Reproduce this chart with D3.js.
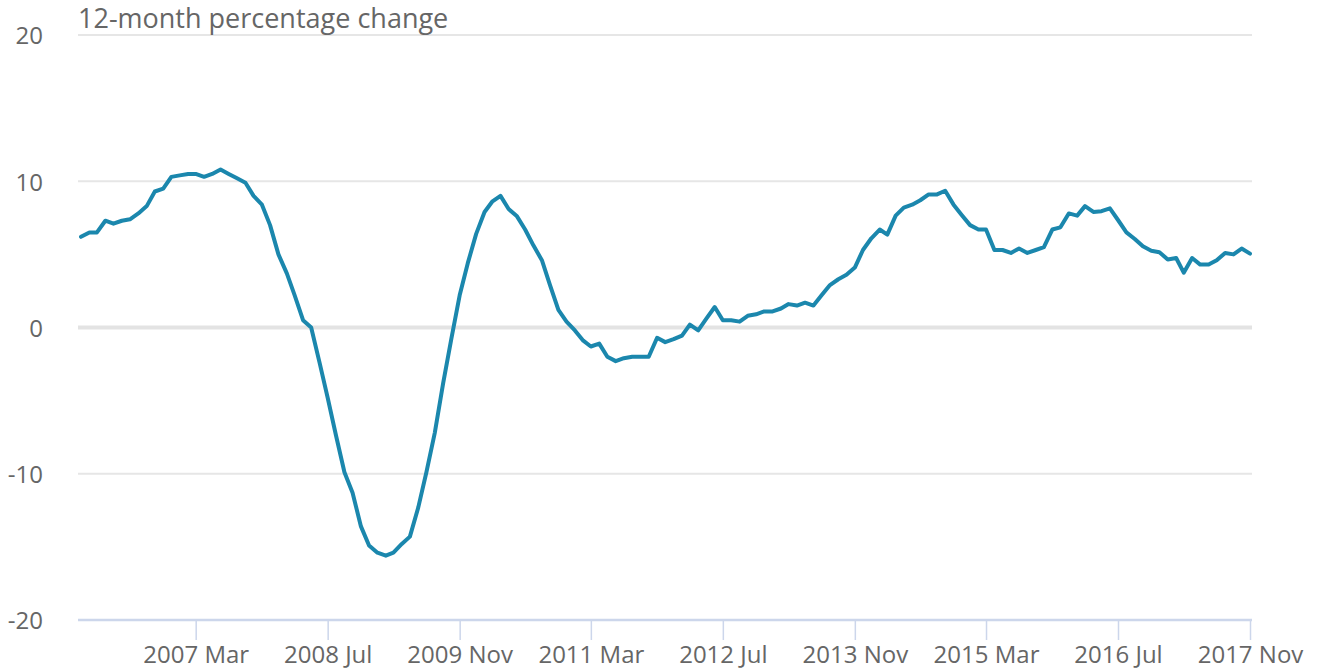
<!DOCTYPE html>
<html>
<head>
<meta charset="utf-8">
<script src="https://cdn.jsdelivr.net/npm/d3@7"></script>
<style>
  body { margin: 0; background: #fff; }
  svg { font-family: "Open Sans", sans-serif; }
</style>
</head>
<body>
<div id="chart"></div>
<script>
// monthly series, 2006 Jan .. 2017 Nov
const startMonth = "2006-01";
const values = [
  6.2, 6.5, 6.5, 7.3, 7.1, 7.3, 7.4, 7.8, 8.3, 9.3, 9.5, 10.3,
  10.4, 10.5, 10.5, 10.3, 10.5, 10.8, 10.5, 10.2, 9.9, 9.0, 8.4, 7.0,
  5.0, 3.7, 2.2, 0.5, 0.0, -2.4, -4.8, -7.4, -9.9, -11.3, -13.6, -14.9,
  -15.4, -15.6, -15.4, -14.8, -14.3, -12.3, -9.9, -7.2, -3.8, -0.8, 2.2, 4.4,
  6.4, 7.9, 8.6, 9.0, 8.1, 7.6, 6.7, 5.6, 4.6, 2.9, 1.2, 0.4,
  -0.2, -0.9, -1.3, -1.1, -2.0, -2.3, -2.1, -2.0, -2.0, -2.0, -0.7, -1.0,
  -0.8, -0.55, 0.2, -0.2, 0.6, 1.4, 0.5, 0.5, 0.4, 0.8, 0.9, 1.1,
  1.1, 1.3, 1.6, 1.5, 1.7, 1.5, 2.2, 2.9, 3.3, 3.6, 4.1, 5.3,
  6.1, 6.7, 6.35, 7.65, 8.2, 8.4, 8.7, 9.1, 9.1, 9.35, 8.4, 7.7,
  7.0, 6.7, 6.7, 5.3, 5.3, 5.1, 5.4, 5.1, 5.3, 5.5, 6.7, 6.85,
  7.8, 7.65, 8.3, 7.9, 7.95, 8.15, 7.35, 6.5, 6.05, 5.55, 5.25, 5.15,
  4.65, 4.75, 3.75, 4.75, 4.3, 4.3, 4.6, 5.1, 5.0, 5.4, 5.05
];
const xTicks = ["2007 Mar", "2008 Jul", "2009 Nov", "2011 Mar", "2012 Jul",
                "2013 Nov", "2015 Mar", "2016 Jul", "2017 Nov"];
const yTicks = [-20, -10, 0, 10, 20];
const yTitle = "12-month percentage change";

const width = 1318, height = 670;
const plot = { left: 78, right: 1252, top: 35, bottom: 620 };

const parseMonth = d3.timeParse("%Y-%m");
const parseTick = d3.timeParse("%Y %b");
const start = parseMonth(startMonth);
const data = values.map((v, i) => ({ date: d3.timeMonth.offset(start, i), value: v }));

const svg = d3.select("#chart").append("svg")
    .attr("width", width)
    .attr("height", height);

const x = d3.scaleTime()
    .domain(d3.extent(data, d => d.date))
    .range([81, 1250]);

const y = d3.scaleLinear()
    .domain([-20, 20])
    .range([plot.bottom, plot.top]);

// gridlines
svg.append("g")
  .selectAll("line")
  .data(yTicks.filter(t => t !== -20))
  .join("line")
    .attr("x1", plot.left)
    .attr("x2", plot.right)
    .attr("y1", d => y(d))
    .attr("y2", d => y(d))
    .attr("stroke", d => d === 0 ? "#e3e3e3" : "#e6e6e6")
    .attr("stroke-width", d => d === 0 ? 4 : 2);

// y labels
svg.append("g")
  .selectAll("text")
  .data(yTicks)
  .join("text")
    .attr("x", 43)
    .attr("y", d => y(d) + 3)
    .attr("text-anchor", "end")
    .attr("dominant-baseline", "middle")
    .attr("fill", "#666")
    .style("font-size", "24px")
    .text(d => d);

// x axis
const xAxis = svg.append("g")
    .attr("transform", `translate(0,${plot.bottom})`)
    .call(d3.axisBottom(x)
        .tickValues(xTicks.map(parseTick))
        .tickFormat(d3.timeFormat("%Y %b"))
        .tickSize(20));

xAxis.select(".domain").remove();
xAxis.append("line")
    .attr("x1", plot.left)
    .attr("x2", plot.right)
    .attr("stroke", "#ccd6eb")
    .attr("stroke-width", 2.5);
xAxis.selectAll(".tick line")
    .attr("stroke", "#ccd6eb")
    .attr("stroke-width", 1.5);
xAxis.selectAll(".tick text")
    .attr("y", 43)
    .attr("dy", null)
    .attr("fill", "#666")
    .style("font-size", "24px")
    .style("font-family", "'Open Sans', sans-serif");

// title
svg.append("text")
    .attr("x", plot.left)
    .attr("y", 28)
    .attr("fill", "#666")
    .style("font-size", "27px")
    .text(yTitle);

// series line
const line = d3.line()
    .x(d => x(d.date))
    .y(d => y(d.value));

svg.append("path")
    .datum(data)
    .attr("fill", "none")
    .attr("stroke", "#1b87ad")
    .attr("stroke-width", 4)
    .attr("stroke-linejoin", "round")
    .attr("stroke-linecap", "round")
    .attr("d", line);
</script>
</body>
</html>
